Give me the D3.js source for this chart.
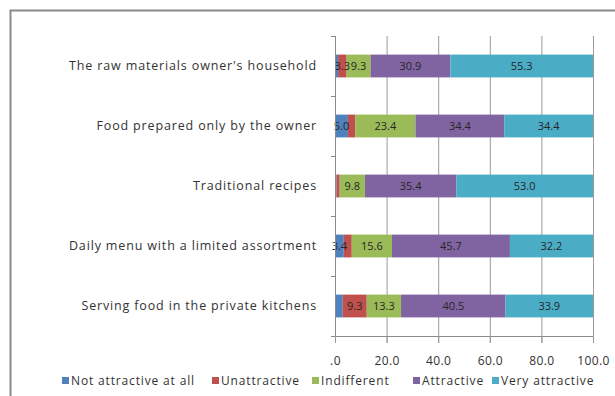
<!DOCTYPE html>
<html><head><meta charset="utf-8">
<script src="https://cdn.jsdelivr.net/npm/d3@7"></script>
<style>body{margin:0;background:#fff}svg{display:block}</style>
</head><body><svg id="c" width="615" height="396"></svg>
<script>
const categories = ["The raw materials owner's household","Food prepared only by the owner","Traditional recipes","Daily menu with a limited assortment","Serving food in the private kitchens"];
const seriesNames = ["Not attractive at all","Unattractive","Indifferent","Attractive","Very attractive"];
const notAttractive = [1.2, 5.0, 0.6, 3.4, 3.0];
const unattractive = [3.3, 2.8, 1.2, 3.1, 9.3];
const indifferent = [9.3, 23.4, 9.8, 15.6, 13.3];
const attractive = [30.9, 34.4, 35.4, 45.7, 40.5];
const veryAttractive = [55.3, 34.4, 53.0, 32.2, 33.9];
const tickValues = [0, 20, 40, 60, 80, 100];
const tickLabels = [".0", "20.0", "40.0", "60.0", "80.0", "100.0"];
const colors = ["#4F81BD","#C0504D","#9BBB59","#8064A2","#4BACC6"];

const seriesVals = [notAttractive, unattractive, indifferent, attractive, veryAttractive];
const rows = categories.map((c,i)=>{const o={cat:c}; seriesNames.forEach((s,j)=>o[s]=seriesVals[j][i]); return o;});
const stack = d3.stack().keys(seriesNames)(rows);

const svg = d3.select("#c");
const font = "'Open Sans', 'Liberation Sans', sans-serif";
svg.append("rect").attr("x",10.5).attr("y",10.5).attr("width",640).attr("height",420)
  .attr("fill","none").attr("stroke","#8a8a8a").attr("stroke-width",2);

const L=335, R=593, T=36, B=336;
const x = d3.scaleLinear().domain([0,100]).range([L,R]);
const y = d3.scaleBand().domain(categories).range([T,B]).paddingInner(0.62).paddingOuter(0.31);

svg.append("g").selectAll("line").data(tickValues.slice(1)).join("line")
  .attr("x1",d=>x(d)+0.5).attr("x2",d=>x(d)+0.5).attr("y1",T).attr("y2",B+7)
  .attr("stroke","#9a9a9a").attr("stroke-width",1);

const g = svg.append("g");
stack.forEach((layer,j)=>{
  g.append("g").attr("fill",colors[j]).selectAll("rect").data(layer).join("rect")
   .attr("x",d=>x(d[0])).attr("width",d=>x(d[1])-x(d[0]))
   .attr("y",d=>y(d.data.cat)).attr("height",y.bandwidth());
});
stack.forEach((layer,j)=>{
  g.append("g").selectAll("text").data(layer.filter(d=>d[1]-d[0]>=3.25)).join("text")
   .attr("x",d=>(x(d[0])+x(d[1]))/2).attr("y",d=>y(d.data.cat)+y.bandwidth()/2)
   .attr("dy","0.35em").attr("text-anchor","middle")
   .attr("font-family",font).attr("font-size",11).attr("fill","#262626")
   .text(d=>(d[1]-d[0]).toFixed(1));
});

const ya = svg.append("g").attr("transform",`translate(${L},0)`).call(d3.axisLeft(y).tickSize(0).tickPadding(18));
ya.select(".domain").attr("stroke","#8a8a8a").attr("d",`M0.5,${T}V${B}`);
ya.selectAll("text").attr("font-family",font).attr("font-size",12.5).attr("letter-spacing","0.85px").attr("fill","#333");
const bounds = [T].concat(categories.map(c=>y(c)+y.bandwidth()+y.step()*y.paddingInner()/2));
svg.append("g").selectAll("line").data(bounds).join("line")
  .attr("x1",L-4).attr("x2",L).attr("y1",d=>Math.round(d)+0.5).attr("y2",d=>Math.round(d)+0.5).attr("stroke","#8a8a8a");

const xa = svg.append("g").attr("transform",`translate(0,${B})`)
  .call(d3.axisBottom(x).tickValues(tickValues).tickFormat((d,i)=>tickLabels[i]).tickSize(7).tickPadding(13));
xa.select(".domain").attr("stroke","#8a8a8a");
xa.selectAll(".tick line").attr("stroke","#9a9a9a");
xa.selectAll("text").attr("font-family",font).attr("font-size",12).attr("letter-spacing","0.4px").attr("fill","#333");

const legX = [62, 212, 312, 413, 492];
const lg = svg.append("g").selectAll("g").data(seriesNames).join("g")
  .attr("transform",(d,i)=>`translate(${legX[i]},381)`);
lg.append("rect").attr("x",0).attr("y",-4).attr("width",7).attr("height",7).attr("fill",(d,i)=>colors[i]);
lg.append("text").attr("x",9).attr("dy","0.35em").attr("font-family",font).attr("font-size",12).attr("letter-spacing","0.85px").attr("fill","#333").text(d=>d);
</script></body></html>
